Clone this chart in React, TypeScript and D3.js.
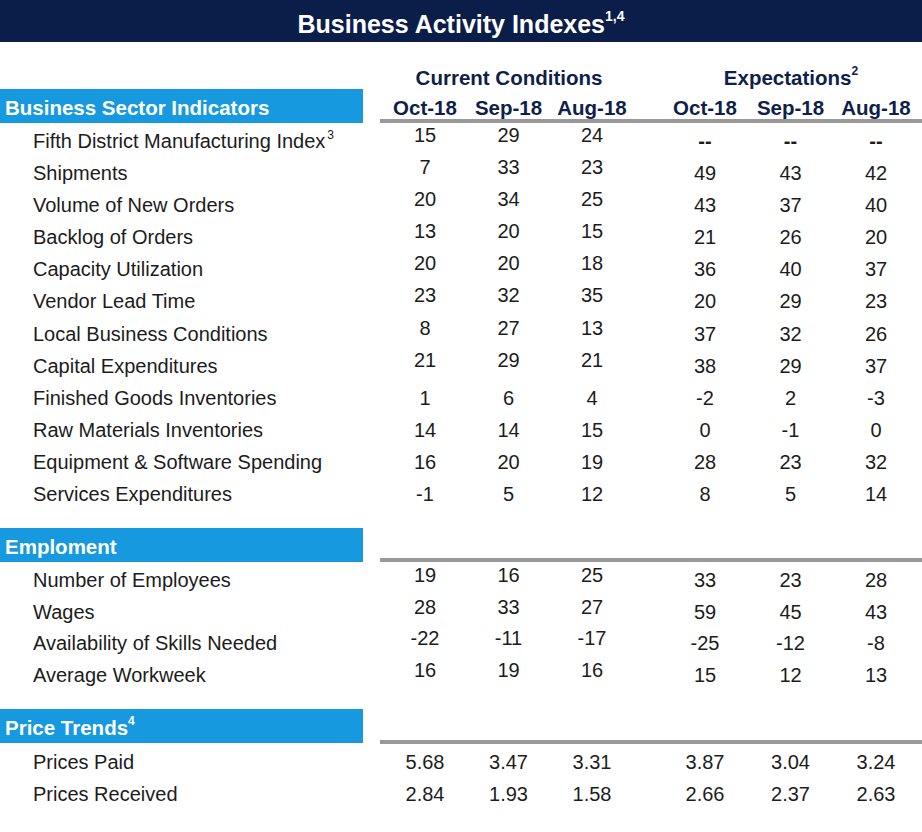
import React from "react";
import * as d3 from "d3";

const periods = ["Oct-18", "Sep-18", "Aug-18"];

const businessLabels = [
  "Fifth District Manufacturing Index",
  "Shipments",
  "Volume of New Orders",
  "Backlog of Orders",
  "Capacity Utilization",
  "Vendor Lead Time",
  "Local Business Conditions",
  "Capital Expenditures",
  "Finished Goods Inventories",
  "Raw Materials Inventories",
  "Equipment & Software Spending",
  "Services Expenditures",
];
const businessCurrent: number[][] = [
  [15, 29, 24], [7, 33, 23], [20, 34, 25], [13, 20, 15], [20, 20, 18], [23, 32, 35],
  [8, 27, 13], [21, 29, 21], [1, 6, 4], [14, 14, 15], [16, 20, 19], [-1, 5, 12],
];
const businessExpect: (number | null)[][] = [
  [null, null, null], [49, 43, 42], [43, 37, 40], [21, 26, 20], [36, 40, 37], [20, 29, 23],
  [37, 32, 26], [38, 29, 37], [-2, 2, -3], [0, -1, 0], [28, 23, 32], [8, 5, 14],
];

const employmentLabels = ["Number of Employees", "Wages", "Availability of Skills Needed", "Average Workweek"];
const employmentCurrent: number[][] = [[19, 16, 25], [28, 33, 27], [-22, -11, -17], [16, 19, 16]];
const employmentExpect: number[][] = [[33, 23, 28], [59, 45, 43], [-25, -12, -8], [15, 12, 13]];

const priceLabels = ["Prices Paid", "Prices Received"];
const priceCurrent: number[][] = [[5.68, 3.47, 3.31], [2.84, 1.93, 1.58]];
const priceExpect: number[][] = [[3.87, 3.04, 3.24], [2.66, 2.37, 2.63]];

const FONT = "'Liberation Sans', Arial, Helvetica, sans-serif";
const NAVY = "#0b1e49";
const HEAD_NAVY = "#0f1f4a";
const BLUE = "#1799df";
const RULE = "#999999";
const TEXT = "#1c1c1c";

const W = 922;
const H = 832;

const xCur = d3.scalePoint<string>().domain(periods).range([425, 592]);
const xExp = d3.scalePoint<string>().domain(periods).range([705, 876]);

type Section = {
  title: string;
  sup?: string;
  boxY: number;
  ruleY: number;
  labels: string[];
  labelSup?: Record<number, string>;
  cur: (number | null)[][];
  exp: (number | null)[][];
  y: d3.ScaleLinear<number, number>;
  curShift: (i: number) => number;
  decimals: number;
  titleWide?: boolean;
};

const sections: Section[] = [
  {
    title: "Business Sector Indicators",
    boxY: 89,
    ruleY: 121,
    labels: businessLabels,
    labelSup: { 0: "3" },
    cur: businessCurrent,
    exp: businessExpect,
    y: d3.scaleLinear().domain([0, businessLabels.length - 1]).range([148, 501]),
    curShift: (i) => (i < 8 ? -6 : 0),
    decimals: 0,
  },
  {
    title: "Emploment",
    boxY: 528,
    ruleY: 560,
    labels: employmentLabels,
    cur: employmentCurrent,
    exp: employmentExpect,
    y: d3.scaleLinear().domain([0, employmentLabels.length - 1]).range([587, 682]),
    curShift: () => -5,
    decimals: 0,
  },
  {
    title: "Price Trends",
    sup: "4",
    boxY: 709,
    ruleY: 742,
    labels: priceLabels,
    cur: priceCurrent,
    exp: priceExpect,
    y: d3.scaleLinear().domain([0, priceLabels.length - 1]).range([768.5, 800.5]),
    curShift: () => 0,
    decimals: 2,
  },
];

function fmt(v: number | null, decimals: number) {
  if (v === null || v === undefined) return "--";
  return decimals > 0 ? d3.format(`.${decimals}f`)(v) : String(v);
}

export default function App() {
  return (
    <svg
      width={W}
      height={H}
      viewBox={`0 0 ${W} ${H}`}
      style={{ position: "absolute", left: 0, top: 0, background: "#fff", fontFamily: FONT }}
    >
      <rect x={0} y={0} width={W} height={H} fill="#fff" />
      {/* Title bar */}
      <rect x={0} y={0} width={W} height={42} fill={NAVY} />
      <text x={461} y={33} textAnchor="middle" fill="#fff" fontWeight="bold" fontSize={25}>
        Business Activity Indexes
        <tspan fontSize={14} dy={-12}>1,4</tspan>
      </text>

      {/* Group headers */}
      <text x={509} y={85} textAnchor="middle" fill={HEAD_NAVY} fontWeight="bold" fontSize={20.5}>
        Current Conditions
      </text>
      <text x={791} y={85} textAnchor="middle" fill={HEAD_NAVY} fontWeight="bold" fontSize={20.5}>
        Expectations
        <tspan fontSize={12} dy={-10}>2</tspan>
      </text>

      {/* Column headers */}
      {periods.map((p) => (
        <text key={"c" + p} x={xCur(p)} y={115} textAnchor="middle" fill={HEAD_NAVY} fontWeight="bold" fontSize={20.5}>
          {p}
        </text>
      ))}
      {periods.map((p) => (
        <text key={"e" + p} x={xExp(p)} y={115} textAnchor="middle" fill={HEAD_NAVY} fontWeight="bold" fontSize={20.5}>
          {p}
        </text>
      ))}

      {sections.map((s, si) => (
        <g key={si}>
          <rect x={0} y={s.boxY} width={363} height={34} fill={BLUE} />
          <text x={5} y={s.boxY + 26} fill="#fff" fontWeight="bold" fontSize={20.5}>
            {s.title}
            {s.sup && (
              <tspan fontSize={12} dy={-10}>
                {s.sup}
              </tspan>
            )}
          </text>
          <rect x={380} y={s.ruleY - 2} width={W - 380} height={4} fill={RULE} />
          {s.labels.map((lab, i) => (
            <g key={i}>
              <text x={33} y={s.y(i)} fill={TEXT} fontSize={20}>
                {lab}
                {s.labelSup && s.labelSup[i] && (
                  <tspan fontSize={12} dx={2} dy={-9}>
                    {s.labelSup[i]}
                  </tspan>
                )}
              </text>
              {periods.map((p, j) => (
                <text
                  key={"c" + j}
                  x={xCur(p)}
                  y={s.y(i) + s.curShift(i)}
                  textAnchor="middle"
                  fill={TEXT}
                  fontSize={20}
                >
                  {fmt(s.cur[i][j], s.decimals)}
                </text>
              ))}
              {periods.map((p, j) => (
                <text
                  key={"e" + j}
                  x={xExp(p)}
                  y={s.y(i)}
                  textAnchor="middle"
                  fill={TEXT}
                  fontSize={20}
                  fontWeight={s.exp[i][j] === null ? "bold" : "normal"}
                >
                  {fmt(s.exp[i][j], s.decimals)}
                </text>
              ))}
            </g>
          ))}
        </g>
      ))}
    </svg>
  );
}
